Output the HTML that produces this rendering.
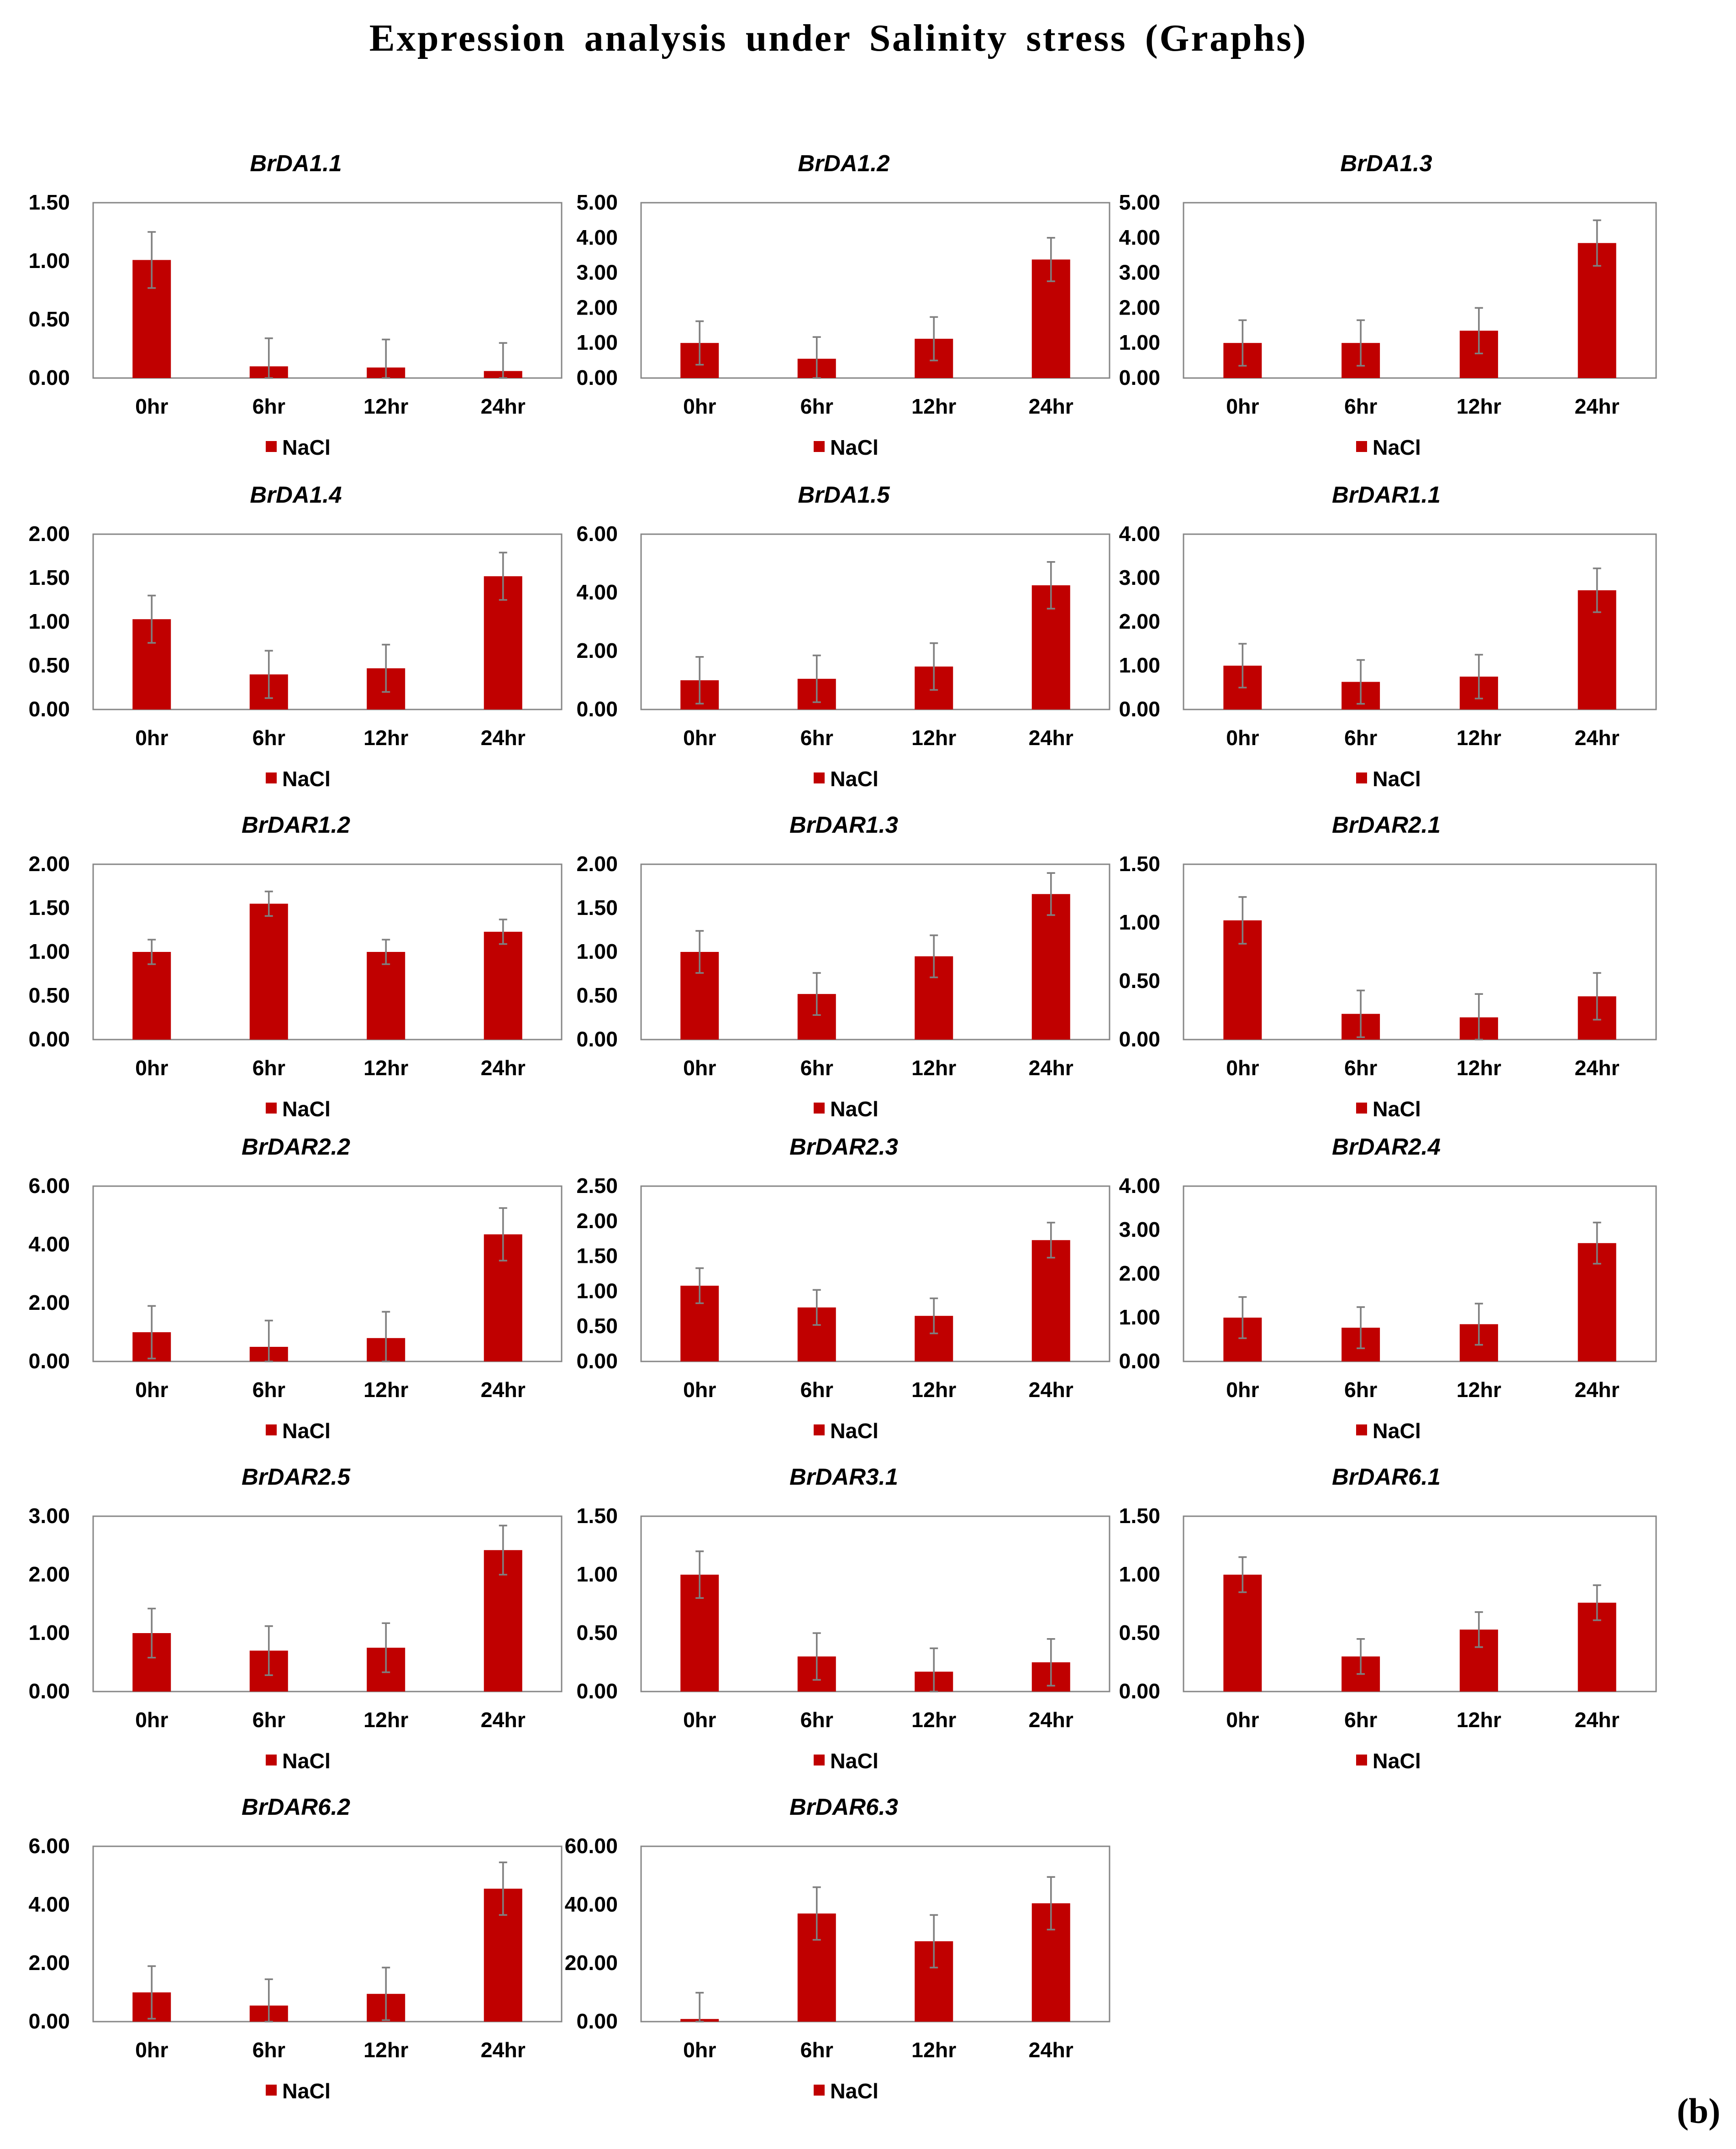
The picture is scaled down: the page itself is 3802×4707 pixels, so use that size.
<!DOCTYPE html>
<html><head><meta charset="utf-8">
<style>
html,body{margin:0;padding:0;background:#fff;}
svg{display:block;}
text{font-family:"Liberation Sans",Arial,sans-serif;}
</style></head>
<body>
<svg id="chart" width="3802" height="4707" viewBox="0 0 1267.33 1569" xmlns="http://www.w3.org/2000/svg">
<text x="612" y="37" text-anchor="middle" font-weight="bold" font-size="28" letter-spacing="1.2" word-spacing="5" style="font-family:'Liberation Serif',serif">Expression analysis under Salinity stress (Graphs)</text>
<text x="1240" y="1550" text-anchor="middle" font-weight="bold" font-size="26" style="font-family:'Liberation Serif',serif">(b)</text>
<g id="panels"></g>
</svg>
<script>
const genes = ["BrDA1.1","BrDA1.2","BrDA1.3","BrDA1.4","BrDA1.5","BrDAR1.1","BrDAR1.2","BrDAR1.3","BrDAR2.1","BrDAR2.2","BrDAR2.3","BrDAR2.4","BrDAR2.5","BrDAR3.1","BrDAR6.1","BrDAR6.2","BrDAR6.3"];
const categories = ["0hr","6hr","12hr","24hr"];
const axisMax = [1.5,5,5,2,6,4,2,2,1.5,6,2.5,4,3,1.5,1.5,6,60];
const axisStep = [0.5,1,1,0.5,2,1,0.5,0.5,0.5,2,0.5,1,1,0.5,0.5,2,20];
const values = [
 [1.01,0.10,0.09,0.06],
 [1.00,0.55,1.12,3.38],
 [1.00,1.00,1.35,3.85],
 [1.03,0.40,0.47,1.52],
 [1.00,1.05,1.47,4.25],
 [1.00,0.63,0.75,2.72],
 [1.00,1.55,1.00,1.23],
 [1.00,0.52,0.95,1.66],
 [1.02,0.22,0.19,0.37],
 [1.00,0.50,0.80,4.35],
 [1.08,0.77,0.65,1.73],
 [1.00,0.77,0.85,2.70],
 [1.00,0.70,0.75,2.42],
 [1.00,0.30,0.17,0.25],
 [1.00,0.30,0.53,0.76],
 [1.00,0.55,0.95,4.55],
 [0.90,37.0,27.5,40.5]
];
const errors = [
 [0.24,0.24,0.24,0.24],
 [0.62,0.62,0.62,0.62],
 [0.65,0.65,0.65,0.65],
 [0.27,0.27,0.27,0.27],
 [0.80,0.80,0.80,0.80],
 [0.50,0.50,0.50,0.50],
 [0.14,0.14,0.14,0.14],
 [0.24,0.24,0.24,0.24],
 [0.20,0.20,0.20,0.20],
 [0.90,0.90,0.90,0.90],
 [0.25,0.25,0.25,0.25],
 [0.47,0.47,0.47,0.47],
 [0.42,0.42,0.42,0.42],
 [0.20,0.20,0.20,0.20],
 [0.15,0.15,0.15,0.15],
 [0.90,0.90,0.90,0.90],
 [9.0,9.0,9.0,9.0]
];
const NS="http://www.w3.org/2000/svg";
const root=document.getElementById('panels');
const colX=[68,468,864];
const colW=[342,342,345];
const rowTop=[148,390,631,866,1107,1348];
const plotH=128;
function mk(tag,attrs,parent){const e=document.createElementNS(NS,tag);for(const k in attrs)e.setAttribute(k,attrs[k]);parent.appendChild(e);return e;}
genes.forEach((g,i)=>{
  const r=Math.floor(i/3), c=i%3;
  const x0=colX[c], y0=rowTop[r], plotW=colW[c];
  const grp=mk('g',{},root);
  
  
  const yS=v=>y0+plotH-(v/axisMax[i])*plotH;
  const xS=k=>x0+plotW/8+k*plotW/4;
  const t=mk('text',{x:x0+148,y:y0-23,'text-anchor':'middle','font-weight':'bold','font-style':'italic','font-size':17},grp);
  t.textContent=g;
  
  
  const box=mk('rect',{x:x0,y:y0,width:plotW,height:plotH,fill:'none',stroke:'#868686','stroke-width':1},grp);
  
  
  for(let v=0;v<=axisMax[i]+1e-9;v+=axisStep[i]){
    const tl=mk('text',{x:x0-17,y:yS(v)+5,'text-anchor':'end','font-weight':'bold','font-size':15.5},grp);
    tl.textContent=v.toFixed(2);
    
    
  }
  categories.forEach((cat,k)=>{
    const cx=xS(k), v=values[i][k], e=errors[i][k];
    const b=mk('rect',{x:cx-14,y:yS(v),width:28,height:y0+plotH-yS(v),fill:'#c00000'},grp);
    
    
    const eb=mk('path',{d:`M${cx},${yS(Math.max(0,v-e))}V${yS(v+e)}M${cx-3},${yS(v+e)}H${cx+3}M${cx-3},${yS(Math.max(0,v-e))}H${cx+3}`,stroke:'#7f7f7f','stroke-width':1.2,fill:'none'},grp);
    
    
    const xl=mk('text',{x:cx,y:y0+plotH+26,'text-anchor':'middle','font-weight':'bold','font-size':15.5},grp);
    xl.textContent=cat;
    
    
  });
  const lg=mk('g',{},grp);
  
  
  mk('rect',{x:x0+126,y:y0+plotH+46,width:8,height:8,fill:'#c00000'},lg);
  const lt=mk('text',{x:x0+138,y:y0+plotH+56,'font-weight':'bold','font-size':15.5},lg);
  lt.textContent='NaCl';
});
</script>
</body></html>
